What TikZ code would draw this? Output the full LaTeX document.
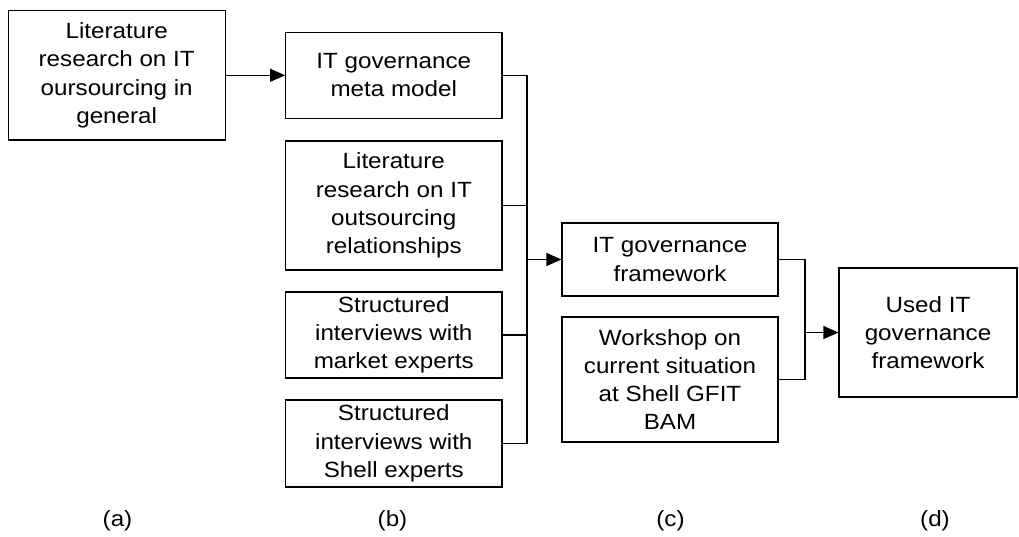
\documentclass[tikz,border=0pt]{standalone}
\usepackage{fontspec}
\setmainfont{Liberation Sans}[FakeStretch=1.1]
\usetikzlibrary{arrows.meta}
\begin{document}
\begin{tikzpicture}[x=1pt,y=-1pt,
  box/.style={draw=black,line width=1.1pt,rectangle,inner sep=0pt,align=center,
    font=\fontsize{22}{28.3}\selectfont,text=black},
  conn/.style={draw=black,line width=1.1pt},
  arr/.style={conn,-{Triangle[length=15pt,width=13pt]}},
  lbl/.style={font=\fontsize{22}{28.3}\selectfont,text=black,inner sep=0pt}]
\useasboundingbox (0,0) rectangle (1019,536);
\node[box,minimum width=216.7pt,minimum height=129.3pt] (a) at (116.7,75.3) {Literature\\research on IT\\oursourcing in\\general};
\node[box,minimum width=216.3pt,minimum height=86pt] (b1) at (393.8,75.3) {IT governance\\meta model};
\node[box,minimum width=216.3pt,minimum height=129pt] (b2) at (393.8,205.5) {Literature\\research on IT\\outsourcing\\relationships};
\node[box,minimum width=216.3pt,minimum height=86pt] (b3) at (393.8,335) {Structured\\interviews with\\market experts};
\node[box,minimum width=216.3pt,minimum height=87pt] (b4) at (393.8,443.5) {Structured\\interviews with\\Shell experts};
\node[box,minimum width=216pt,minimum height=73pt] (c1) at (670,259.5) {IT governance\\framework};
\node[box,minimum width=216pt,minimum height=125pt] (c2) at (670,379.5) {Workshop on\\current situation\\at Shell GFIT\\BAM};
\node[box,minimum width=178pt,minimum height=129pt] (d) at (928,332.5) {Used IT\\governance\\framework};
\coordinate (jb) at (527,259.5);
\coordinate (jc) at (805,332.5);
\draw[arr] (a.east) -- (b1.west);
\draw[conn] (b1.east) -- (b1.east -| jb) -- (b4.east -| jb) -- (b4.east);
\draw[conn] (b2.east) -- (b2.east -| jb);
\draw[conn] (b3.east) -- (b3.east -| jb);
\draw[arr] (jb) -- (c1.west);
\draw[conn] (c1.east) -- (c1.east -| jc) -- (c2.east -| jc) -- (c2.east);
\draw[arr] (jc) -- (d.west);
\node[lbl] (la) at (117.5,521) {(a)};
\node[lbl] (lb) at (392.5,521) {(b)};
\node[lbl] (lc) at (670.5,521) {(c)};
\node[lbl] (ld) at (935,521) {(d)};
\end{tikzpicture}
\end{document}
